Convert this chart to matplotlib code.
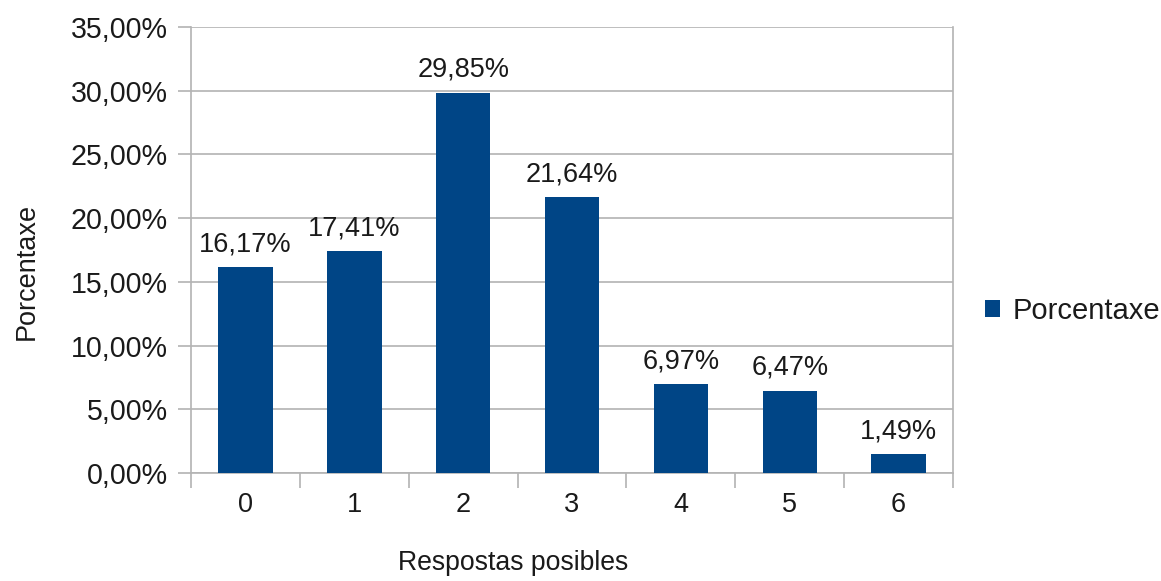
import matplotlib
matplotlib.use("Agg")
import matplotlib.pyplot as plt
from matplotlib.patches import Patch
from matplotlib.ticker import FuncFormatter, MultipleLocator

categories = ["0", "1", "2", "3", "4", "5", "6"]
values = [16.17, 17.41, 29.85, 21.64, 6.97, 6.47, 1.49]
series_name = "Porcentaxe"
x_title = "Respostas posibles"
y_title = "Porcentaxe"

plt.rcParams["font.family"] = ["Liberation Sans", "DejaVu Sans"]
FS = 19.5
BAR = "#004586"
GRID = "#b3b3b3"
TXT = "#1a1a1a"

fig = plt.figure(figsize=(11.61, 5.81), dpi=100)
ax = fig.add_axes([191 / 1161, 1 - 473 / 581, (953 - 191) / 1161, (473 - 27) / 581])

pos = list(range(len(categories)))
bars = ax.bar(pos, values, width=0.5, color=BAR, zorder=3)

def pct(v, _=None):
    return f"{v:.2f}".replace(".", ",") + "%"

for x, v in zip(pos, values):
    ax.annotate(pct(v), (x, v), xytext=(0, 7), textcoords="offset points",
                ha="center", va="bottom", fontsize=FS, color=TXT)

ax.set_xlim(-0.5, len(categories) - 0.5)
ax.set_ylim(0, 35)
ax.yaxis.set_major_locator(MultipleLocator(5))
ax.yaxis.set_major_formatter(FuncFormatter(pct))
ax.grid(axis="y", color=GRID, linewidth=1.2, zorder=0)

# category labels centred, tick marks on the category boundaries
ax.set_xticks(pos)
ax.set_xticklabels(categories)
ax.set_xticks([p - 0.5 for p in pos] + [len(pos) - 0.5], minor=True)
ax.tick_params(axis="x", which="major", length=0, pad=14, labelsize=FS, labelcolor=TXT)
ax.tick_params(axis="x", which="minor", length=11, width=1.2, color=GRID, direction="out")
ax.tick_params(axis="y", length=9.5, width=1.2, color=GRID, pad=7, labelsize=20.6, labelcolor=TXT)

for side in ("left", "right", "bottom"):
    ax.spines[side].set_color(GRID)
    ax.spines[side].set_linewidth(1.2)
ax.spines["top"].set_visible(False)

ax.set_xlabel(x_title, fontsize=19.2, color=TXT)
ax.xaxis.set_label_coords((513 - 191) / (953 - 191), -(563 - 473) / (473 - 27), transform=ax.transAxes)
ax.xaxis.label.set_va("center")
ax.set_ylabel(y_title, fontsize=FS, color=TXT)
ax.yaxis.set_label_coords(-(191 - 27) / (953 - 191), (473 - 271) / (473 - 27), transform=ax.transAxes)
ax.yaxis.label.set_va("center")

fig.legend(handles=[Patch(facecolor=BAR, label=series_name)], loc="center left",
           bbox_to_anchor=(985 / 1161, 1 - 311 / 581), frameon=False, fontsize=21,
           borderpad=0, borderaxespad=0,
           handlelength=0.5, handleheight=0.5, handletextpad=0.45, labelcolor=TXT)

fig.savefig("out.png", dpi=100)
